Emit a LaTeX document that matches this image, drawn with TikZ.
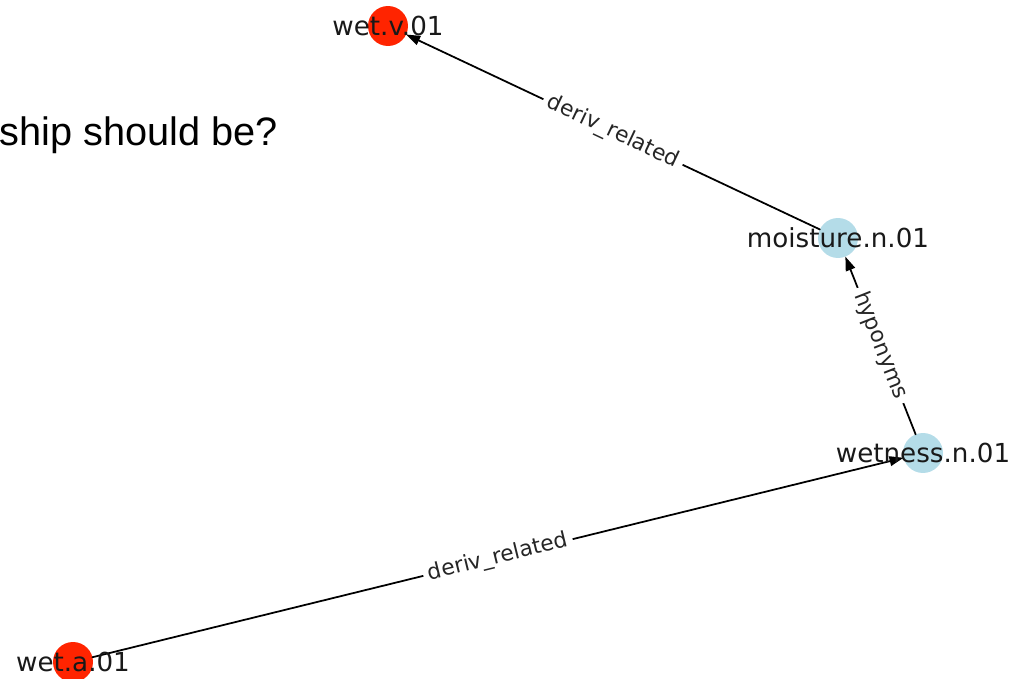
\documentclass[tikz,border=0pt]{standalone}
\usepackage{fontspec}
\newfontfamily\nxfont{DejaVu Sans}
\newfontfamily\slidefont{Liberation Sans}
\usetikzlibrary{arrows.meta}
\definecolor{rojo}{HTML}{FF2400}
\definecolor{celeste}{HTML}{B4DCE8}

\begin{document}
\begin{tikzpicture}[x=0.02cm,y=-0.02cm,>={Triangle[length=8pt,width=5.5pt]},line cap=round,
  synset/.style={circle,inner sep=0pt,outer sep=0pt,minimum size=0.8cm},
  synlabel/.style={font=\nxfont\fontsize{14.9}{17}\selectfont,text=black!90,inner sep=0pt},
  rel/.style={->,line width=1pt},
  rellabel/.style={font=\nxfont\fontsize{12.4}{14}\selectfont,fill=white,inner sep=3pt,
                   sloped,midway,text=black!85}]
  \useasboundingbox (0,0) rectangle (1025,679);
  % --- fragment of the slide title ---
  \node[anchor=base west,inner sep=0pt,font=\slidefont\fontsize{22.6}{27}\selectfont]
    (title) at (-1,146) {ship should be?};
  % --- synsets ---
  \node[synset,fill=rojo]    (wetv)  at (388,26)  {};
  \node[synset,fill=celeste] (moist) at (838,238) {};
  \node[synset,fill=celeste] (wetn)  at (923,453) {};
  \node[synset,fill=rojo]    (weta)  at (73,662)  {};
  % --- relations ---
  \draw[rel] (moist) -- node[rellabel] (r1) {deriv\_related} (wetv);
  \draw[rel] (wetn)  -- node[rellabel] (r2) {hyponyms} (moist);
  \draw[rel] (weta)  -- node[rellabel] (r3) {deriv\_related} (wetn);
  % --- labels ---
  \node[synlabel] (wetv-t)  at (wetv)  {wet.v.01};
  \node[synlabel] (moist-t) at (moist) {moisture.n.01};
  \node[synlabel] (wetn-t)  at (wetn)  {wetness.n.01};
  \node[synlabel] (weta-t)  at (weta)  {wet.a.01};
\end{tikzpicture}
\end{document}
